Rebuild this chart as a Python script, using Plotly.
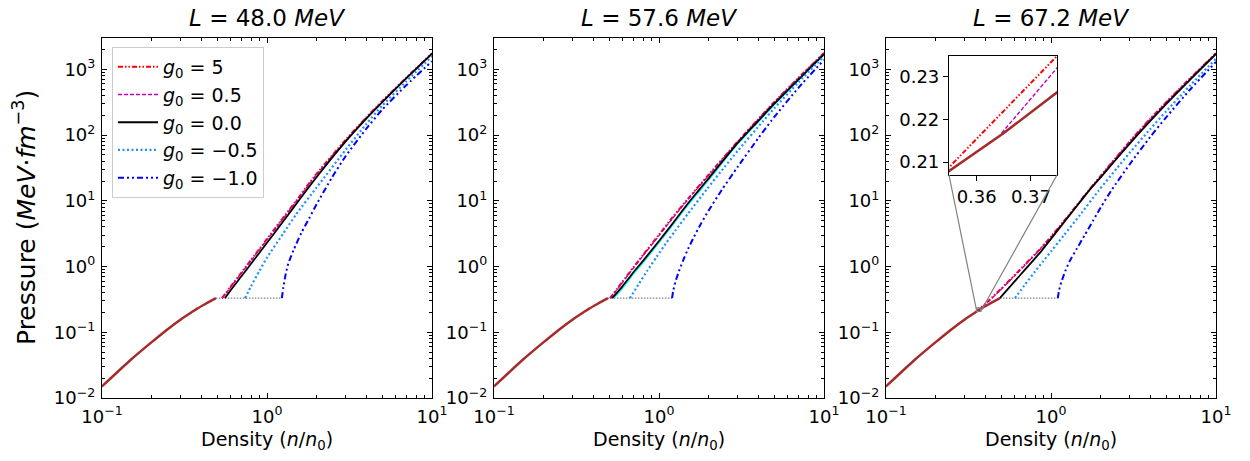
import math
import plotly.graph_objects as go

# ---------------- data ----------------
L_values = [48.0, 57.6, 67.2]

# crust (brown) curve, shared by all panels
n_crust = [0.1, 0.15, 0.2, 0.25, 0.3, 0.352, 0.355, 0.365, 0.375, 0.42, 0.46, 0.49]
p_crust = [0.015, 0.0385, 0.0708, 0.1115, 0.157, 0.205, 0.208, 0.2168, 0.2265, 0.267, 0.303, 0.33]

# phase-transition plateau (gray dotted)
p_plateau = 0.33
n_plateau_start = [0.49, 0.49, 0.49]
n_plateau_end = [1.23, 1.20, 1.10]

# ---- L = 48.0 MeV ----
n_red_48 = [0.533, 0.6, 0.7, 0.8, 1.0, 1.2, 1.5, 2.0, 3.0, 4.0, 5.0, 7.0, 10.0]
p_red_48 = [0.33, 0.49, 0.81, 1.26, 2.63, 4.8, 10.0, 26, 85, 186, 330, 750, 1760]
n_mag_48 = [0.535, 0.6, 0.7, 0.8, 1.0, 1.2, 1.5, 2.0, 3.0, 4.0, 5.0, 7.0, 10.0]
p_mag_48 = [0.33, 0.48, 0.79, 1.23, 2.55, 4.65, 9.7, 25.3, 83, 183, 325, 742, 1750]
n_blk_48 = [0.556, 0.6, 0.7, 0.8, 1.0, 1.2, 1.5, 2.0, 3.0, 4.0, 5.0, 7.0, 10.0]
p_blk_48 = [0.33, 0.43, 0.71, 1.1, 2.3, 4.2, 8.9, 23, 80, 178, 317, 733, 1730]
n_lb_48 = [0.736, 0.8, 0.9, 1.0, 1.245, 1.5, 2.0, 3.0, 4.0, 5.0, 7.0, 10.0]
p_lb_48 = [0.33, 0.50, 0.86, 1.37, 3.1, 6.2, 16, 60, 148, 282, 660, 1580]
n_blu_48 = [1.23, 1.256, 1.30, 1.345, 1.445, 1.62, 1.8, 2.0, 2.47, 3.0, 4.0, 5.0, 7.0, 10.0]
p_blu_48 = [0.33, 0.485, 0.78, 1.1, 1.75, 3.3, 5.4, 8.9, 22.4, 48, 125, 245, 577, 1330]

# ---- L = 57.6 MeV ----
n_red_57 = [0.505, 0.6, 0.7, 0.8, 1.0, 1.2, 1.5, 2.0, 3.0, 4.0, 5.0, 7.0, 10.0]
p_red_57 = [0.33, 0.585, 0.975, 1.5, 3.05, 5.5, 10.8, 25, 80, 176, 320, 745, 1780]
n_mag_57 = [0.507, 0.6, 0.7, 0.8, 1.0, 1.2, 1.5, 2.0, 3.0, 4.0, 5.0, 7.0, 10.0]
p_mag_57 = [0.33, 0.57, 0.95, 1.46, 2.95, 5.3, 10.5, 24.4, 79, 174, 316, 740, 1770]
n_cyan_57 = [0.53, 0.6, 0.7, 0.8, 1.0, 1.2, 1.5, 2.0, 3.0, 4.0, 5.0, 7.0, 10.0]
p_cyan_57 = [0.33, 0.47, 0.78, 1.16, 2.33, 4.2, 8.7, 21, 74, 161, 294, 690, 1690]
n_blk_57 = [0.52, 0.6, 0.7, 0.8, 1.0, 1.2, 1.5, 1.73, 2.0, 3.0, 4.0, 5.0, 7.0, 10.0]
p_blk_57 = [0.33, 0.50, 0.82, 1.22, 2.45, 4.4, 9.2, 14.2, 22, 76, 165, 300, 700, 1700]
n_lb_57 = [0.667, 0.75, 0.85, 0.968, 1.1, 1.25, 1.5, 1.95, 2.5, 3.0, 4.28, 5.0, 7.0, 10.0]
p_lb_57 = [0.33, 0.532, 0.867, 1.41, 2.24, 3.47, 6.4, 15.0, 32.9, 57.5, 164, 256, 635, 1578]
n_blu_57 = [1.2, 1.22, 1.26, 1.32, 1.40, 1.5, 1.63, 1.8, 2.0, 2.4, 3.0, 4.0, 4.82, 7.0, 10.0]
p_blu_57 = [0.33, 0.43, 0.594, 0.843, 1.24, 1.85, 2.84, 4.54, 7.14, 14.6, 32.9, 90, 168, 524, 1396]

# ---- L = 67.2 MeV ----
n_red_67 = [0.352, 0.3748, 0.42, 0.5, 0.6, 0.7, 0.84, 1.0, 1.2, 1.5, 2.0, 3.0, 4.0, 5.0, 7.0, 10.0]
p_red_67 = [0.205, 0.2348, 0.305, 0.463, 0.731, 1.09, 1.75, 2.86, 4.93, 9.9, 24, 80, 178, 318, 740, 1760]
n_mag_67 = [0.3646, 0.3748, 0.42, 0.5, 0.6, 0.7, 0.84, 1.0, 1.2, 1.5, 2.0, 3.0, 4.0, 5.0, 7.0, 10.0]
p_mag_67 = [0.2168, 0.232, 0.298, 0.453, 0.716, 1.07, 1.72, 2.8, 4.85, 9.75, 23.7, 79, 176, 315, 735, 1755]
n_blk_67 = [0.49, 0.6, 0.7, 0.8, 0.879, 1.0, 1.2, 1.5, 1.68, 2.0, 3.0, 4.0, 5.0, 7.0, 10.0]
p_blk_67 = [0.33, 0.589, 0.912, 1.33, 1.75, 2.64, 4.72, 9.6, 13.8, 22.8, 74, 164, 298, 705, 1720]
n_lb_67 = [0.605, 0.7, 0.8, 0.9, 1.01, 1.2, 1.5, 1.94, 2.5, 3.0, 4.0, 5.0, 7.0, 10.0]
p_lb_67 = [0.33, 0.542, 0.841, 1.22, 1.75, 3.01, 6.1, 14.2, 31, 54, 124, 232, 575, 1455]
n_blu_67 = [1.10, 1.12, 1.16, 1.22, 1.30, 1.43, 1.6, 1.8, 2.0, 2.33, 3.0, 4.0, 5.0, 7.0, 10.0]
p_blu_67 = [0.33, 0.44, 0.60, 0.85, 1.22, 1.85, 3.0, 5.0, 7.9, 14.6, 36, 94, 188, 498, 1300]

legend_labels = ["<i>g</i><sub>0</sub> = 5", "<i>g</i><sub>0</sub> = 0.5", "<i>g</i><sub>0</sub> = 0.0",
                 "<i>g</i><sub>0</sub> = \u22120.5", "<i>g</i><sub>0</sub> = \u22121.0"]

# tick labels
x_tickvals = [0.1, 1, 10]
x_ticktext = ["10<sup>\u22121</sup>", "10<sup>0</sup>", "10<sup>1</sup>"]
y_tickvals = [0.01, 0.1, 1, 10, 100, 1000]
y_ticktext = ["10<sup>\u22122</sup>", "10<sup>\u22121</sup>", "10<sup>0</sup>",
              "10<sup>1</sup>", "10<sup>2</sup>", "10<sup>3</sup>"]

# inset view window (panel 3)
inset_xrange = [0.3549, 0.3748]
inset_yrange = [0.207, 0.2348]
inset_xticks = [0.36, 0.37]
inset_yticks = [0.21, 0.22, 0.23]

# ---------------- layout geometry & styles ----------------
W, H = 1250, 461
FONT = "DejaVu Sans"
panel_px = [(102, 432), (494, 824), (886, 1216)]
top_px, bot_px = 38, 398
inset_px = (949, 1057, 56, 175)  # x0, x1, ytop, ybottom
xlog_range = [-1, 1]
ylog_range = [-2, math.log10(3000)]

ydom = [1 - bot_px / H, 1 - top_px / H]

STY = {
    "red": dict(color="#ff0000", width=2, dash="5px,2px,1.5px,2px,1.5px,2px"),
    "mag": dict(color="#bf00bf", width=1.4, dash="4px,2px"),
    "blk": dict(color="#000000", width=1.8),
    "cyan": dict(color="#00ffff", width=1.8),
    "lb": dict(color="#1e90ff", width=2.2, dash="2px,2.5px"),
    "blu": dict(color="#0000ff", width=2, dash="6px,3px,2px,3px,2px,3px"),
    "brown": dict(color="#a52a2a", width=2.5),
    "gray": dict(color="#808080", width=1.3, dash="1.5px,1.5px"),
}

panels = [
    dict(red=(n_red_48, p_red_48), mag=(n_mag_48, p_mag_48), blk=(n_blk_48, p_blk_48),
         lb=(n_lb_48, p_lb_48), blu=(n_blu_48, p_blu_48)),
    dict(red=(n_red_57, p_red_57), mag=(n_mag_57, p_mag_57), cyan=(n_cyan_57, p_cyan_57),
         blk=(n_blk_57, p_blk_57), lb=(n_lb_57, p_lb_57), blu=(n_blu_57, p_blu_57)),
    dict(red=(n_red_67, p_red_67), mag=(n_mag_67, p_mag_67), blk=(n_blk_67, p_blk_67),
         lb=(n_lb_67, p_lb_67), blu=(n_blu_67, p_blu_67)),
]
legend_keys = {"red": 0, "mag": 1, "blk": 2, "lb": 3, "blu": 4}

fig = go.Figure()

for i, pdata in enumerate(panels):
    xa = "x" if i == 0 else f"x{i+1}"
    ya = "y" if i == 0 else f"y{i+1}"
    fig.add_trace(go.Scatter(x=[n_plateau_start[i], n_plateau_end[i]], y=[p_plateau, p_plateau],
                             mode="lines", line=STY["gray"], xaxis=xa, yaxis=ya,
                             showlegend=False, hoverinfo="skip"))
    for key in ["red", "mag", "cyan", "blk", "lb", "blu"]:
        if key not in pdata:
            continue
        nx, py = pdata[key]
        show = (i == 0 and key in legend_keys)
        fig.add_trace(go.Scatter(
            x=nx, y=py, mode="lines", line=dict(**STY[key], shape="spline", smoothing=0.6),
            xaxis=xa, yaxis=ya,
            name=legend_labels[legend_keys[key]] if key in legend_keys else "",
            showlegend=show, legendrank=legend_keys.get(key, 9) + 1))
    fig.add_trace(go.Scatter(x=n_crust, y=p_crust, mode="lines",
                             line=dict(**STY["brown"], shape="spline", smoothing=0.6),
                             xaxis=xa, yaxis=ya, showlegend=False))

# inset traces
for key in ["red", "mag"]:
    nx, py = panels[2][key]
    fig.add_trace(go.Scatter(x=nx, y=py, mode="lines", line=STY[key], xaxis="x4", yaxis="y4",
                             showlegend=False))
fig.add_trace(go.Scatter(x=n_crust, y=p_crust, mode="lines", line=STY["brown"],
                         xaxis="x4", yaxis="y4", showlegend=False))

tickfont = dict(family=FONT, size=18, color="black")
common = dict(showline=True, linecolor="black", linewidth=1.2, mirror="allticks",
              ticks="inside", ticklen=5, tickwidth=1.1, tickcolor="black",
              showgrid=False, zeroline=False, tickfont=tickfont, automargin=False,
              minor=dict(ticks="inside", ticklen=3, tickwidth=0.9, tickcolor="black",
                         dtick="D1", showgrid=False))

layout = dict(width=W, height=H, autosize=False, margin=dict(l=0, r=0, t=0, b=0),
              paper_bgcolor="white", plot_bgcolor="white",
              font=dict(family=FONT, color="black"),
              showlegend=True)

for i in range(3):
    sx = "" if i == 0 else str(i + 1)
    x0, x1 = panel_px[i]
    layout[f"xaxis{sx}"] = dict(type="log", range=xlog_range, domain=[x0 / W, x1 / W],
                                anchor=f"y{sx}", tickvals=x_tickvals, ticktext=x_ticktext,
                                ticklabelstandoff=2, **common)
    layout[f"yaxis{sx}"] = dict(type="log", range=ylog_range, domain=ydom,
                                anchor=f"x{sx}", tickvals=y_tickvals, ticktext=y_ticktext,
                                ticklabelstandoff=2, **common)

ix0, ix1, iyt, iyb = inset_px
inset_common = dict(showline=True, linecolor="black", linewidth=1.2, mirror=True,
                    ticks="outside", ticklen=5, tickwidth=1.1, tickcolor="black",
                    showgrid=False, zeroline=False, tickfont=tickfont, automargin=False)
layout["xaxis4"] = dict(range=inset_xrange, domain=[ix0 / W, ix1 / W], anchor="y4",
                        tickvals=inset_xticks, ticktext=[f"{v:.2f}" for v in inset_xticks],
                        **inset_common)
layout["yaxis4"] = dict(range=inset_yrange, domain=[1 - iyb / H, 1 - iyt / H], anchor="x4",
                        tickvals=inset_yticks, ticktext=[f"{v:.2f}" for v in inset_yticks],
                        **inset_common)

layout["legend"] = dict(x=112 / W, y=1 - 47 / H, xanchor="left", yanchor="top",
                        bgcolor="rgba(255,255,255,0.8)", bordercolor="#cccccc", borderwidth=1,
                        font=dict(family=FONT, size=19, color="black"),
                        itemwidth=40, traceorder="normal")

annotations = []
for i, L in enumerate(L_values):
    x0, x1 = panel_px[i]
    cx = (x0 + x1) / 2 / W
    annotations.append(dict(text=f"<i>L</i> = {L:.1f} <i>MeV</i>", x=cx, y=1 - 18 / H,
                            xref="paper", yref="paper", xanchor="center", yanchor="middle",
                            showarrow=False, font=dict(family=FONT, size=23, color="black")))
    annotations.append(dict(text="Density (<i>n</i>/<i>n</i><sub>0</sub>)", x=cx, y=1 - 440 / H,
                            xref="paper", yref="paper", xanchor="center", yanchor="middle",
                            showarrow=False, font=dict(family=FONT, size=19, color="black")))
annotations.append(dict(text="Pressure (<i>MeV</i>\u00b7<i>fm</i><sup>\u22123</sup>)",
                        x=24 / W, y=1 - ((top_px + bot_px) / 2) / H, textangle=-90,
                        xref="paper", yref="paper", xanchor="center", yanchor="middle",
                        showarrow=False, font=dict(family=FONT, size=25, color="black")))
layout["annotations"] = annotations


def px_x(panel, n):
    x0, x1 = panel_px[panel]
    return x0 + (math.log10(n) - xlog_range[0]) / (xlog_range[1] - xlog_range[0]) * (x1 - x0)


def px_y(p):
    return bot_px - (math.log10(p) - ylog_range[0]) / (ylog_range[1] - ylog_range[0]) * (bot_px - top_px)


rx0, rx1 = px_x(2, inset_xrange[0]), px_x(2, inset_xrange[1])
ry0, ry1 = px_y(inset_yrange[0]), px_y(inset_yrange[1])
gray_line = dict(color="#808080", width=1.2)
shapes = [
    dict(type="rect", xref="paper", yref="paper", x0=rx0 / W, x1=rx1 / W,
         y0=1 - ry0 / H, y1=1 - ry1 / H, line=gray_line),
    dict(type="line", xref="paper", yref="paper", x0=ix0 / W, y0=1 - iyb / H,
         x1=rx0 / W, y1=1 - ry0 / H, line=gray_line),
    dict(type="line", xref="paper", yref="paper", x0=ix1 / W, y0=1 - iyb / H,
         x1=rx1 / W, y1=1 - ry0 / H, line=gray_line),
]
layout["shapes"] = shapes

fig.update_layout(**layout)
fig.write_html("out.html", config={"displayModeBar": False},
               post_script="document.body.style.margin='0px';")
